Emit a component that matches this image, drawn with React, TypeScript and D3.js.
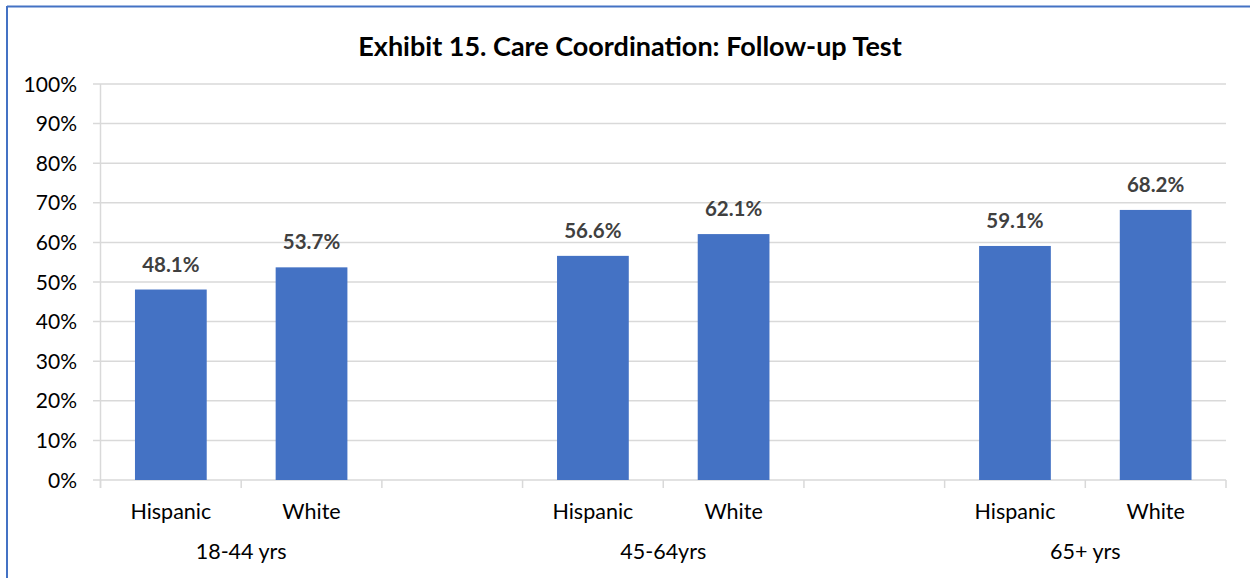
import React from "react";
import * as d3 from "d3";

// chart values
const GROUPS = ["18-44 yrs", "45-64yrs", "65+ yrs"];
const RACES = ["Hispanic", "White"];
const VALUES = [
  [48.1, 53.7],
  [56.6, 62.1],
  [59.1, 68.2],
];
const Y_TICKS = [0, 10, 20, 30, 40, 50, 60, 70, 80, 90, 100];

const W = 1250;
const H = 578;
const FONT = "Lato, 'Liberation Sans', Arial, sans-serif";
const BAR = "#4472C4";
const GRID = "#D9D9D9";

// 8 slots: H, W, gap, H, W, gap, H, W
const slots: string[] = [];
GROUPS.forEach((g, gi) => {
  RACES.forEach((r) => slots.push(`${g}|${r}`));
  if (gi < GROUPS.length - 1) slots.push(`gap${gi}`);
});

export default function App() {
  const x = d3.scaleBand<string>().domain(slots).range([100.5, 1226]).padding(0);
  const y = d3.scaleLinear().domain([0, 100]).range([480, 84]);
  const barW = x.bandwidth() * 0.51;

  const bars = GROUPS.flatMap((g, gi) =>
    RACES.map((r, ri) => ({ key: `${g}|${r}`, race: r, value: VALUES[gi][ri] }))
  );
  const boundaries = [...slots.map((s) => x(s)!), x.range()[1]];

  return (
    <svg width={W} height={H} style={{ position: "absolute", left: 0, top: 0, background: "#fff" }}>
      <rect x={0} y={0} width={W} height={H} fill="#fff" />
      {/* frame (only top and left edges are in view) */}
      <line x1={7} x2={W} y1={6.5} y2={6.5} stroke={BAR} strokeWidth={2} />
      <line x1={7} x2={7} y1={6} y2={H} stroke={BAR} strokeWidth={2} />

      <text x={630} y={56} textAnchor="middle" fontFamily={FONT} fontWeight="bold" fontSize={27} fill="#000">
        Exhibit 15. Care Coordination: Follow-up Test
      </text>

      {/* gridlines + y labels */}
      {Y_TICKS.map((t) => (
        <g key={t}>
          <line x1={93} x2={x.range()[1]} y1={y(t)} y2={y(t)} stroke={GRID} strokeWidth={1.5} />
          <text x={77} y={y(t)} dy="0.36em" textAnchor="end" fontFamily={FONT} fontSize={21} fill="#000">
            {t}%
          </text>
        </g>
      ))}
      <line x1={100.5} x2={100.5} y1={y(100)} y2={y(0) + 8} stroke={GRID} strokeWidth={1.5} />
      {boundaries.map((b, i) => (
        <line key={i} x1={b} x2={b} y1={y(0)} y2={y(0) + 8} stroke={GRID} strokeWidth={1.5} />
      ))}

      {/* bars */}
      {bars.map((d) => {
        const cx = x(d.key)! + x.bandwidth() / 2;
        return (
          <g key={d.key}>
            <rect x={cx - barW / 2} y={y(d.value)} width={barW} height={y(0) - y(d.value)} fill={BAR} />
            <text x={cx} y={y(d.value) - 18} textAnchor="middle" fontFamily={FONT} fontWeight="bold" fontSize={20.5} fill="#404040">
              {d.value.toFixed(1)}%
            </text>
            <text x={cx} y={519} textAnchor="middle" fontFamily={FONT} fontSize={21.5} fill="#000">
              {d.race}
            </text>
          </g>
        );
      })}

      {/* group labels */}
      {GROUPS.map((g) => {
        const a = x(`${g}|${RACES[0]}`)!;
        const b = x(`${g}|${RACES[RACES.length - 1]}`)! + x.bandwidth();
        return (
          <text key={g} x={(a + b) / 2} y={559} textAnchor="middle" fontFamily={FONT} fontSize={21.5} fill="#000">
            {g}
          </text>
        );
      })}
    </svg>
  );
}
